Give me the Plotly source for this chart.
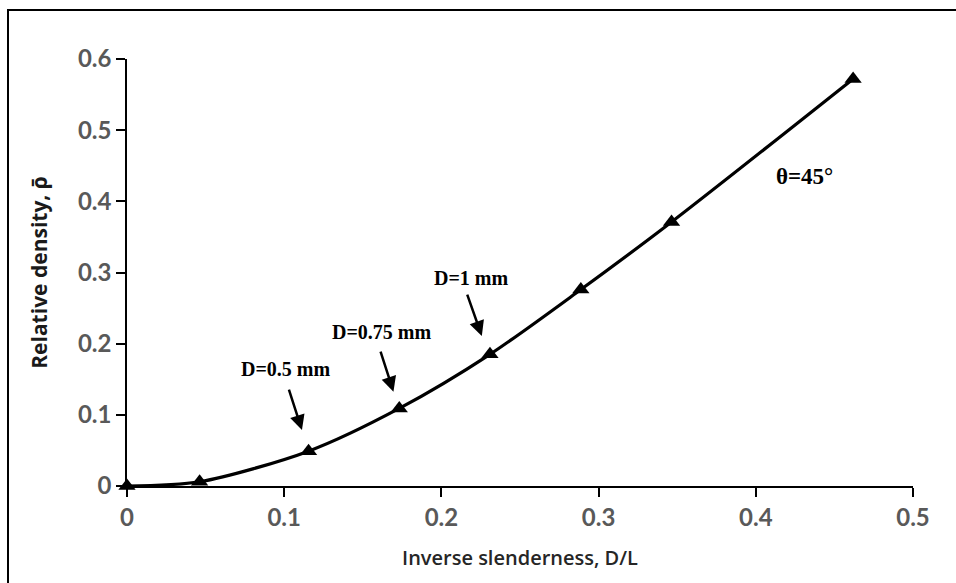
import plotly.graph_objects as go

# Data
inv_slenderness = [0.0, 0.0462, 0.1155, 0.1732, 0.2309, 0.2887, 0.3464, 0.4619]
rel_density = [0.0, 0.006, 0.049, 0.109, 0.185, 0.276, 0.371, 0.572]

x_ticks = [0, 0.1, 0.2, 0.3, 0.4, 0.5]
x_tick_labels = ["0", "0.1", "0.2", "0.3", "0.4", "0.5"]
y_ticks = [0, 0.1, 0.2, 0.3, 0.4, 0.5, 0.6]
y_tick_labels = ["0", "0.1", "0.2", "0.3", "0.4", "0.5", "0.6"]

labels = ["D=0.5 mm", "D=0.75 mm", "D=1 mm"]

W, H = 956, 583
ML, MR, MT, MB = 127, 43, 59, 97
PW, PH = W - ML - MR, H - MT - MB

fig = go.Figure()
fig.add_trace(go.Scatter(
    x=inv_slenderness, y=rel_density,
    mode="lines+markers",
    line=dict(color="black", width=3.2, shape="spline", smoothing=0.8),
    marker=dict(symbol="triangle-up", size=15, color="black"),
    showlegend=False,
    cliponaxis=False,
))

tick_font = dict(family="Lato, 'Open Sans', sans-serif", size=24, color="#595959", weight="bold")

fig.update_layout(
    width=W, height=H,
    margin=dict(l=ML, r=MR, t=MT, b=MB),
    paper_bgcolor="white", plot_bgcolor="white",
    xaxis=dict(
        range=[0, 0.5], tickvals=x_ticks, ticktext=x_tick_labels,
        showgrid=False, zeroline=False, showline=True, linecolor="black", linewidth=1.5,
        ticks="outside", ticklen=9, tickwidth=1.5, tickcolor="black",
        tickfont=tick_font,
        title=dict(text="Inverse slenderness, D/L", standoff=21,
                   font=dict(family="'Open Sans', sans-serif", size=20, color="#262626", weight=600)),
    ),
    yaxis=dict(
        range=[0, 0.6], tickvals=y_ticks, ticktext=y_tick_labels,
        showgrid=False, zeroline=False, showline=True, linecolor="black", linewidth=1.5,
        ticks="outside", ticklen=9, tickwidth=1.5, tickcolor="black",
        tickfont=tick_font,
        title=dict(text="Relative density, ρ\u0304", standoff=25,
                   font=dict(family="'Open Sans', sans-serif", size=21, color="#1a1a1a", weight=700)),
    ),
)

# outer frame
def px_x(p):
    return (p - ML) / PW

def px_y(p):
    return (H - MB - p) / PH

fig.add_shape(type="rect", xref="paper", yref="paper",
              x0=px_x(8), x1=px_x(965), y0=px_y(10), y1=px_y(595),
              line=dict(color="black", width=2), fillcolor="rgba(0,0,0,0)", layer="above")

serif_font = dict(family="'Liberation Serif', 'Times New Roman', serif", size=20, color="black", weight="bold")

text_pos = [(0.1013, 0.164), (0.1621, 0.217), (0.2193, 0.292)]
arrow_pos = [((0.1027, 0.1374), (0.1113, 0.0787)),
             ((0.1610, 0.1910), (0.1695, 0.1326)),
             ((0.2161, 0.2710), (0.2257, 0.2109))]

for lab, (tx, ty), ((ax0, ay0), (hx, hy)) in zip(labels, text_pos, arrow_pos):
    fig.add_annotation(x=tx, y=ty, text=lab, showarrow=False, font=serif_font,
                       xanchor="center", yanchor="middle")
    fig.add_annotation(x=hx, y=hy, ax=ax0, ay=ay0, axref="x", ayref="y",
                       text="", showarrow=True, arrowhead=2, arrowsize=1.2,
                       arrowwidth=2.5, arrowcolor="black")

fig.add_annotation(x=0.4312, y=0.435, text="θ=45°", showarrow=False,
                   font=dict(family="'Liberation Serif', 'Times New Roman', serif", size=23,
                             color="black", weight="bold"),
                   xanchor="center", yanchor="middle")

fig.write_html("out.html")
